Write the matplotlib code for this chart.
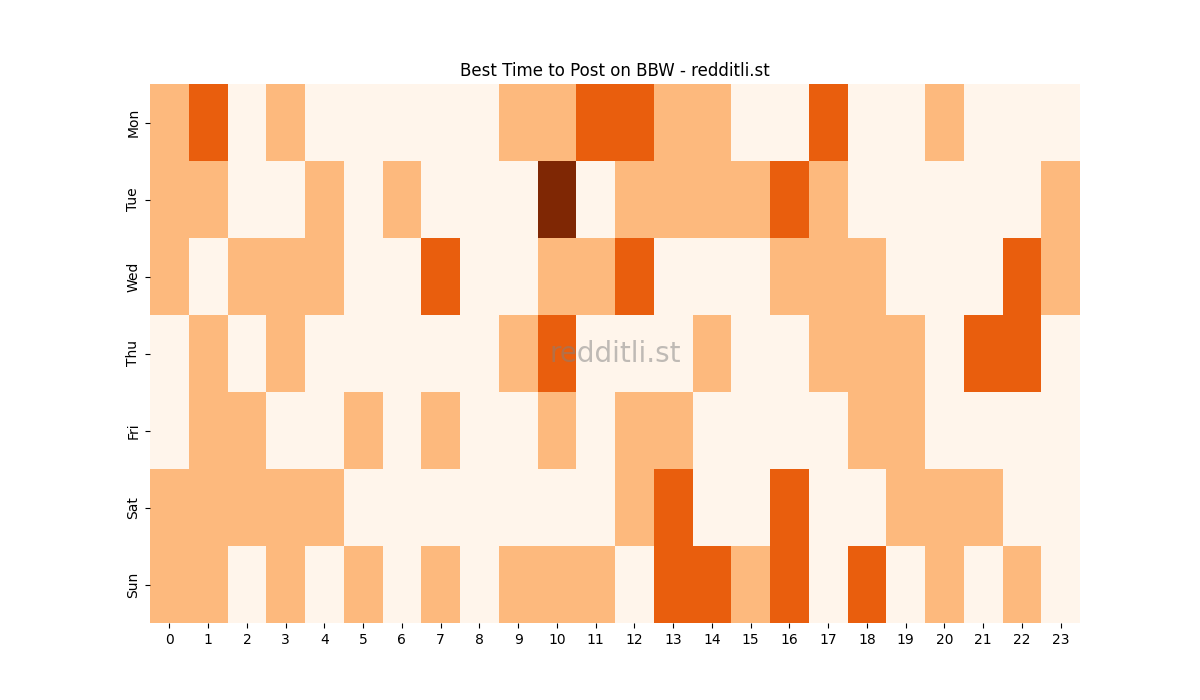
import numpy as np
import matplotlib
matplotlib.use("Agg")
import matplotlib.pyplot as plt
import seaborn as sns

days = ["Mon", "Tue", "Wed", "Thu", "Fri", "Sat", "Sun"]
hours = list(range(24))

mon = [1,2,0,1,0,0,0,0,0,1,1,2,2,1,1,0,0,2,0,0,1,0,0,0]
tue = [1,1,0,0,1,0,1,0,0,0,3,0,1,1,1,1,2,1,0,0,0,0,0,1]
wed = [1,0,1,1,1,0,0,2,0,0,1,1,2,0,0,0,1,1,1,0,0,0,2,1]
thu = [0,1,0,1,0,0,0,0,0,1,2,0,0,0,1,0,0,1,1,1,0,2,2,0]
fri = [0,1,1,0,0,1,0,1,0,0,1,0,1,1,0,0,0,0,1,1,0,0,0,0]
sat = [1,1,1,1,1,0,0,0,0,0,0,0,1,2,0,0,2,0,0,1,1,1,0,0]
sun = [1,1,0,1,0,1,0,1,0,1,1,1,0,2,2,1,2,0,2,0,1,0,1,0]

data = np.array([mon, tue, wed, thu, fri, sat, sun])

fig, ax = plt.subplots(figsize=(12, 7), dpi=100)
sns.heatmap(data, cmap="Oranges", vmin=0, vmax=3, cbar=False,
            xticklabels=hours, yticklabels=days, ax=ax)
ax.set_title("Best Time to Post on BBW - redditli.st")
ax.text(0.5, 0.5, "redditli.st", transform=ax.transAxes, ha="center",
        va="center", fontsize=20, color="gray", alpha=0.5)
fig.savefig("out.png")
